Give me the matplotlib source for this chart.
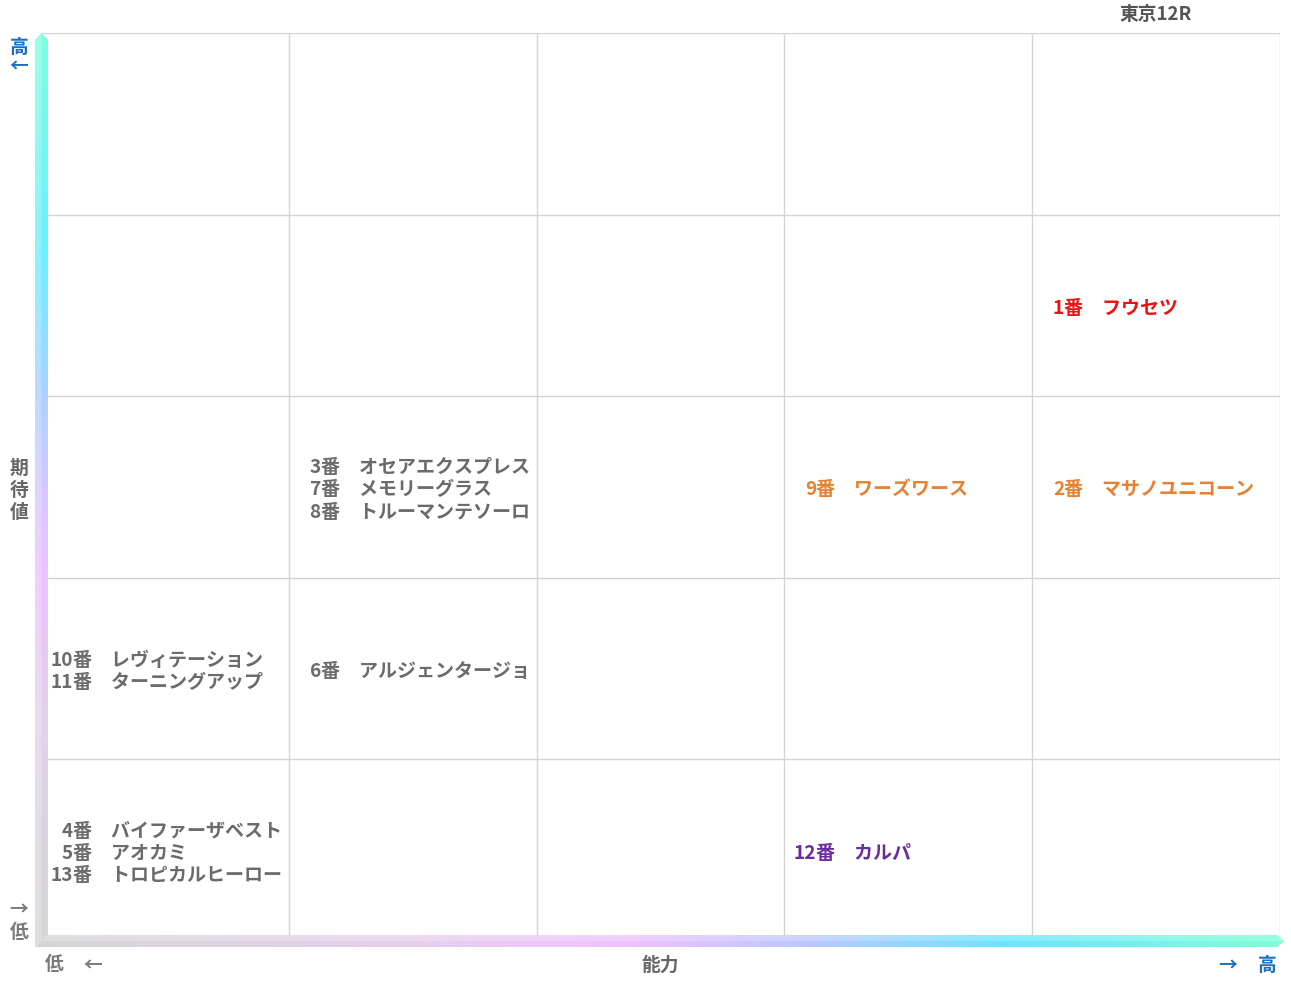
import matplotlib
matplotlib.use("Agg")
import matplotlib.pyplot as plt
import numpy as np
from matplotlib.colors import LinearSegmentedColormap
from matplotlib.patches import Polygon
from matplotlib.transforms import offset_copy

plt.rcParams['font.family'] = ['Noto Sans CJK JP', 'DejaVu Sans']

# ---- data ----
title = "東京12R"
x_label = "能力"
y_label = "期待値"
horse_numbers = [1, 2, 9, 3, 7, 8, 10, 11, 6, 4, 5, 13, 12]
horse_names = ["フウセツ", "マサノユニコーン", "ワーズワース",
               "オセアエクスプレス", "メモリーグラス", "トルーマンテソーロ",
               "レヴィテーション", "ターニングアップ", "アルジェンタージョ",
               "バイファーザベスト", "アオカミ", "トロピカルヒーロー", "カルパ"]
ability_col = [4, 4, 3, 1, 1, 1, 0, 0, 1, 0, 0, 0, 3]       # 0 = low ... 4 = high
expect_row = [3, 2, 2, 2, 2, 2, 1, 1, 1, 0, 0, 0, 0]        # 0 = low ... 4 = high
horse_colors = ["#ee1111", "#e8812f", "#e8812f",
                "#6b6b6b", "#6b6b6b", "#6b6b6b",
                "#6b6b6b", "#6b6b6b", "#6b6b6b",
                "#6b6b6b", "#6b6b6b", "#6b6b6b", "#6a2c9c"]
n_cols, n_rows = 5, 5

W, H = 1291, 983
fig = plt.figure(figsize=(W / 100, H / 100), dpi=100)
fig.patch.set_facecolor("white")

L, R, T, B = 41, 1280, 33, 941
ax = fig.add_axes([L / W, 1 - B / H, (R - L) / W, (B - T) / H])
ax.set_xlim(0, n_cols)
ax.set_ylim(0, n_rows)
ax.axis("off")
for i in range(1, n_cols + 1):
    ax.axvline(i, color="#d4d4d4", lw=1.0, zorder=1)
for j in range(1, n_rows + 1):
    ax.axhline(j, color="#d4d4d4", lw=1.0, zorder=1)

# ---- labels in cells ----
fs = 13.7
line_h = 22  # px
cells = {}
for k in range(len(horse_numbers)):
    cells.setdefault((ability_col[k], expect_row[k]), []).append(k)
for (c, r), idxs in cells.items():
    n = len(idxs)
    for li, k in enumerate(idxs):
        dy = ((n - 1) / 2 - li) * line_h - 3
        tnum = offset_copy(ax.transData, fig=fig, x=32, y=dy, units='dots')
        ax.text(c, r + 0.5, str(horse_numbers[k]), transform=tnum,
                ha="right", va="center", fontsize=fs, fontweight="bold",
                color=horse_colors[k], zorder=5)
        ax.text(c, r + 0.5, "番\u3000" + horse_names[k], transform=tnum,
                ha="left", va="center", fontsize=fs, fontweight="bold",
                color=horse_colors[k], zorder=5)

# ---- overlay for gradient axis bars & outer labels ----
ov = fig.add_axes([0, 0, 1, 1], zorder=3)
ov.set_xlim(0, W)
ov.set_ylim(H, 0)
ov.axis("off")
ov.patch.set_alpha(0)

vcols = [(0.0, "#7dffe0"), (0.24, "#6cf0ff"), (0.38, "#a6d4ff"),
         (0.5, "#d6c8ff"), (0.6, "#eec2ff"), (0.75, "#e2d2ea"), (1.0, "#d6d6d6")]
vcmap = LinearSegmentedColormap.from_list("v", vcols)
hcols = [(0.0, "#d6d6d6"), (0.3, "#e6d0ec"), (0.47, "#efc2ff"), (0.62, "#bcc8ff"),
         (0.78, "#6ae6ff"), (1.0, "#7dffd8")]
hcmap = LinearSegmentedColormap.from_list("h", hcols)

# vertical bar
vx0, vx1, vtop, vbot = 35, 48, 33, 947
grad = np.linspace(0, 1, 256).reshape(-1, 1)
im = ov.imshow(grad, cmap=vcmap, extent=(vx0, vx1, vbot, vtop), aspect="auto",
               interpolation="bilinear", zorder=4)
vpoly = Polygon([(vx0, vbot), (vx0, vtop + 7), ((vx0 + vx1) / 2, vtop),
                 (vx1, vtop + 7), (vx1, vbot - 12)], closed=True,
                transform=ov.transData, facecolor="none", edgecolor="none")
ov.add_patch(vpoly)
im.set_clip_path(vpoly)
shade = Polygon([(vx0, vbot), (vx0, vtop + 7), ((vx0 + vx1) / 2, vtop),
                 ((vx0 + vx1) / 2, vbot - 6)], closed=True,
                facecolor="white", alpha=0.22, edgecolor="none", zorder=5)
ov.add_patch(shade)

# horizontal bar
hy0, hy1, hl, hr = 935, 947, 35, 1284
gradh = np.linspace(0, 1, 256).reshape(1, -1)
imh = ov.imshow(gradh, cmap=hcmap, extent=(hl, hr, hy1, hy0), aspect="auto",
                interpolation="bilinear", zorder=4)
hpoly = Polygon([(hl, hy1), (hl + 12, hy0), (hr - 7, hy0), (hr, (hy0 + hy1) / 2),
                 (hr - 7, hy1)], closed=True, transform=ov.transData,
                facecolor="none", edgecolor="none")
ov.add_patch(hpoly)
imh.set_clip_path(hpoly)
shadeh = Polygon([(hl + 12, hy0), (hr - 7, hy0), (hr, (hy0 + hy1) / 2),
                  (hl + 6, (hy0 + hy1) / 2)], closed=True,
                 facecolor="white", alpha=0.22, edgecolor="none", zorder=5)
ov.add_patch(shadeh)

blue = "#1a6fc0"
gray = "#7a7a7a"
ofs = 13.5
d = 2
ov.text(19, 45 + d, "高", color=blue, fontsize=ofs, fontweight="bold", ha="center", va="center")
ov.text(19, 64 + d, "←", color=blue, fontsize=ofs, fontweight="bold", ha="center", va="center")
for i, ch in enumerate(y_label):
    ov.text(19, 466 + 22 * i + d, ch, color="#666666", fontsize=ofs, fontweight="bold",
            ha="center", va="center")
ov.text(19, 907 + d, "→", color=gray, fontsize=ofs, fontweight="bold", ha="center", va="center")
ov.text(19, 930 + d, "低", color=gray, fontsize=ofs, fontweight="bold", ha="center", va="center")
ov.text(54, 963 + d, "低", color=gray, fontsize=ofs, fontweight="bold", ha="center", va="center")
ov.text(93, 963 + d, "←", color=gray, fontsize=ofs, fontweight="bold", ha="center", va="center")
ov.text(660, 963 + d, x_label, color="#666666", fontsize=ofs, fontweight="bold", ha="center", va="center")
ov.text(1228, 963 + d, "→", color=blue, fontsize=ofs, fontweight="bold", ha="center", va="center")
ov.text(1267, 963 + d, "高", color=blue, fontsize=ofs, fontweight="bold", ha="center", va="center")
ov.text(1156, 12 + d, title, color="#555555", fontsize=ofs, fontweight="bold", ha="center", va="center")

fig.savefig("out.png", dpi=100, facecolor="white")
